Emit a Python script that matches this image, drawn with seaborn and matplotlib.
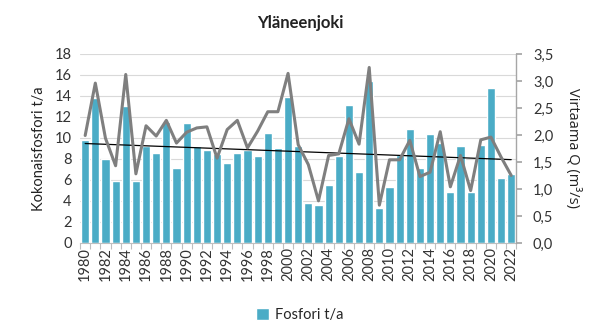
import matplotlib
matplotlib.use("Agg")
import matplotlib.pyplot as plt
from matplotlib.ticker import FuncFormatter, FixedLocator
import seaborn as sns
import numpy as np
import pandas as pd

years = list(range(1980, 2023))
fosfori = [9.8, 13.8, 8.0, 5.9, 13.05, 5.9, 9.2, 8.6, 11.55, 7.1,
           11.45, 9.25, 8.85, 8.5, 7.65, 8.55, 8.9, 8.3, 10.5, 9.0,
           13.9, 9.25, 3.8, 3.6, 5.5, 8.3, 13.1, 6.75, 15.4, 3.3,
           5.35, 8.35, 10.9, 7.1, 10.4, 9.5, 4.9, 9.2, 4.9, 9.35,
           14.75, 6.2, 6.55]
virtaama = [1.99, 2.96, 1.94, 1.43, 3.12, 1.28, 2.17, 1.98, 2.27, 1.85,
            2.05, 2.13, 2.15, 1.57, 2.10, 2.27, 1.76, 2.07, 2.43, 2.43,
            3.14, 1.82, 1.45, 0.78, 1.62, 1.65, 2.30, 1.83, 3.25, 0.70,
            1.54, 1.54, 1.90, 1.23, 1.31, 2.06, 1.04, 1.62, 0.97, 1.91,
            1.96, 1.59, 1.25]

df = pd.DataFrame({"Vuosi": [str(y) for y in years], "Fosfori": fosfori, "Q": virtaama})
df["idx"] = np.arange(len(df))

sns.set_theme(style="white")
plt.rcParams["font.family"] = ["Lato", "DejaVu Sans"]

fig = plt.figure(figsize=(6.0, 3.31), dpi=100)
ax = fig.add_axes([0.1335, 0.266, 0.727, 0.571])

bar_color = "#4BACC6"
sns.barplot(data=df, x="Vuosi", y="Fosfori", color=bar_color, saturation=1,
            width=0.8, ax=ax, label="Fosfori t/a", zorder=2)

# linear trend of phosphorus
coef = np.polyfit(df["idx"], df["Fosfori"], 1)
trend = np.polyval(coef, df["idx"])
ax.plot(df["idx"], trend, color="black", lw=0.9, zorder=4)

ax.set_ylim(0, 18)
ax.set_yticks(np.arange(0, 19, 2))
ax.set_xlim(-0.5, len(df) - 0.5)
ax.grid(axis="y", color="#D9D9D9", lw=0.8, zorder=0)
ax.set_axisbelow(True)
for s in ["top", "right", "left"]:
    ax.spines[s].set_visible(False)
ax.spines["bottom"].set_color("#BFBFBF")
ax.spines["bottom"].set_linewidth(0.8)

ax.set_xticks(df["idx"])
ax.set_xticklabels([y if i % 2 == 0 else "" for i, y in enumerate(df["Vuosi"])],
                   rotation=90, fontsize=10.5, color="#333333")
ax.xaxis.set_minor_locator(FixedLocator(np.arange(-0.5, len(df), 1)))
ax.tick_params(axis="x", which="major", length=0, pad=3)
ax.tick_params(axis="x", which="minor", length=4, color="#BFBFBF", width=0.8, bottom=True)
ax.tick_params(axis="y", length=0, labelsize=10.5, labelcolor="#333333", pad=6)
ax.set_xlabel("")
ax.set_ylabel("Kokonaisfosfori t/a", fontsize=10.5, color="#222222", labelpad=6)

ax2 = ax.twinx()
sns.lineplot(data=df, x="idx", y="Q", color="#7F7F7F", lw=2.2, ax=ax2, zorder=5)
ax2.set_ylim(0, 3.5)
ax2.set_yticks(np.arange(0, 3.51, 0.5))
ax2.yaxis.set_major_formatter(FuncFormatter(lambda v, p: f"{v:.1f}".replace(".", ",")))
ax2.set_xlim(-0.5, len(df) - 0.5)
for s in ["top", "left", "bottom"]:
    ax2.spines[s].set_visible(False)
ax2.spines["right"].set_color("#A6A6A6")
ax2.spines["right"].set_linewidth(1.0)
ax2.tick_params(axis="y", length=4, color="#A6A6A6", labelsize=10.5, labelcolor="#333333", pad=8)
ax2.set_xlabel("")
ax2.set_ylabel("Virtaama Q (m³/s)", rotation=270, fontsize=10.5, color="#222222",
               labelpad=20, family=["Open Sans", "DejaVu Sans"])

fig.text(0.5, 0.932, "Yläneenjoki", ha="center", va="center", fontsize=12,
         fontweight="bold", color="#222222")

handles, labels = ax.get_legend_handles_labels()
fig.legend(handles[:1], labels[:1], loc="center", bbox_to_anchor=(0.5, 0.048),
           frameon=False, fontsize=10.5, handlelength=0.9, handleheight=0.9,
           handletextpad=0.4)
if ax.get_legend():
    ax.get_legend().remove()

fig.savefig("out.png", dpi=100)
